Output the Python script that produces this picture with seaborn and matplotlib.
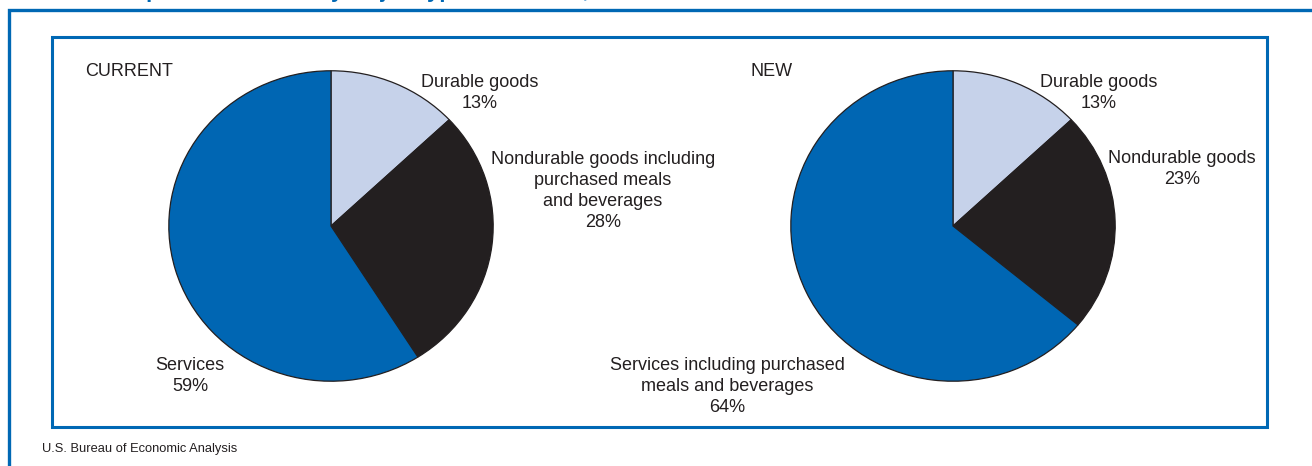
import matplotlib
matplotlib.use("Agg")
import matplotlib.pyplot as plt
import seaborn as sns
from matplotlib.patches import Rectangle

sns.set_theme(style="white")
plt.rcParams['font.family'] = ['Liberation Sans', 'DejaVu Sans']

# ---- data ----
categories = ["Durable goods", "Nondurable goods", "Services"]
current_values = [13, 28, 59]
new_values = [13, 23, 64]
current_labels = ["Durable goods\n13%",
                  "Nondurable goods including\npurchased meals\nand beverages\n28%",
                  "Services\n59%"]
new_labels = ["Durable goods\n13%",
              "Nondurable goods\n23%",
              "Services including purchased\nmeals and beverages\n64%"]
panel_titles = ["CURRENT", "NEW"]
title_text = "Chart 4. Composition of PCE by Major Type of Product, 2002"
source_text = "U.S. Bureau of Economic Analysis"

colors = ["#C6D2EA", "#231F20", "#0066B3"]
BLUE = "#0068B4"

W, H = 1312, 466
DPI = 100
fig = plt.figure(figsize=(W / DPI, H / DPI), dpi=DPI)
fig.patch.set_facecolor("white")


def fx(x):
    return x / W


def fy(y):
    return 1 - y / H


def add_pie(values, cx, cy, rx, ry):
    ax = fig.add_axes([fx(cx - rx), fy(cy + ry), (2 * rx) / W, (2 * ry) / H])
    ax.pie(values, colors=colors, startangle=90, counterclock=False,
           wedgeprops=dict(edgecolor="#231F20", linewidth=0.9))
    ax.set_aspect("auto")
    ax.set_xlim(-1.005, 1.005)
    ax.set_ylim(-1.005, 1.005)
    ax.axis("off")
    return ax


add_pie(current_values, 331, 226, 163, 156)
add_pie(new_values, 953, 226, 163, 156)

fs = 13.0
txt = dict(fontsize=fs, color="#231F20", ha="center", va="top", linespacing=1.30)

fig.text(fx(85), fy(63), panel_titles[0], fontsize=fs, color="#231F20", ha="left", va="top")
fig.text(fx(750), fy(63), panel_titles[1], fontsize=fs, color="#231F20", ha="left", va="top")

fig.text(fx(480), fy(74), current_labels[0], **txt)
fig.text(fx(603), fy(151), current_labels[1], **txt)
fig.text(fx(190), fy(357), current_labels[2], **txt)

fig.text(fx(1099), fy(74), new_labels[0], **txt)
fig.text(fx(1182), fy(150), new_labels[1], **txt)
fig.text(fx(727), fy(357), new_labels[2], **txt)

# frames
fig.add_artist(Rectangle((fx(9), fy(H + 20)), (W + 40) / W, (H + 10) / H,
                         transform=fig.transFigure, fill=False,
                         edgecolor=BLUE, linewidth=2.4, clip_on=False))
fig.add_artist(Rectangle((fx(52), fy(427)), (1267 - 52) / W, (427 - 37) / H,
                         transform=fig.transFigure, fill=False,
                         edgecolor=BLUE, linewidth=2.2))

fig.text(fx(42), fy(449), source_text, fontsize=9.3, color="#231F20",
         ha="left", va="center")

fig.text(fx(8), fy(-2.5), title_text, fontsize=16, fontweight="bold", color=BLUE,
         ha="left", va="baseline")

fig.savefig("out.png", dpi=DPI)
